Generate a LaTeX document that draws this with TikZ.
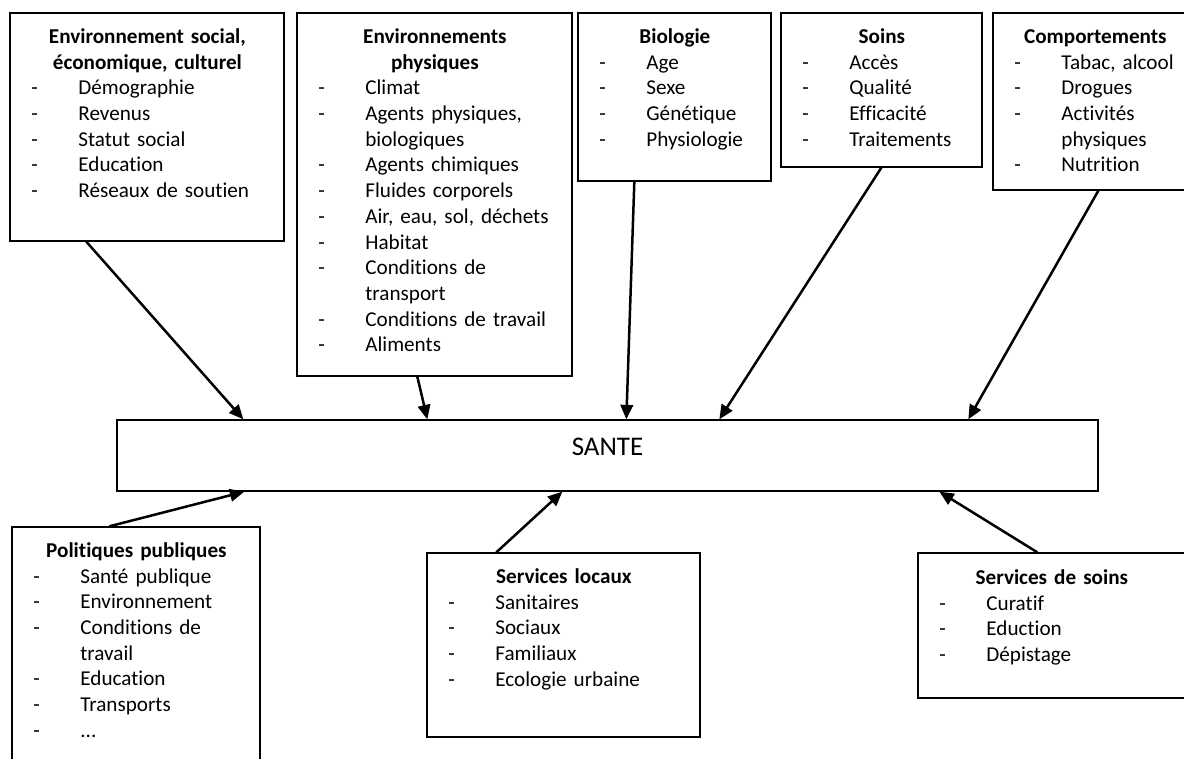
\documentclass[tikz,border=0pt]{standalone}
\usepackage{fontspec}
\setmainfont{Carlito}[Ligatures=NoCommon]
\usetikzlibrary{arrows.meta,fit}
\newdimen\px \px=0.52pt
\tikzset{
  cadre/.style={draw,line width=0.7pt,inner sep=0pt},
  texte/.style={inner sep=0pt,anchor=base west,font=\fontsize{11pt}{13.36pt}\selectfont},
  fleche/.style={-{Triangle[length=7.5pt,width=6.5pt]},line width=1.3pt}
}
\newcommand\titre[1]{{\centering\bfseries #1\par}}
\newcommand\tiret[1]{\hspace*{21\px}\makebox[47\px][l]{-}#1\par}
\newcommand\suite[1]{\hspace*{68\px}#1\par}

\begin{document}
\begin{tikzpicture}[x=0.52pt,y=-0.52pt]
  \clip (0,0) rectangle (1184,758);

  % Determinants
  \node[cadre,fit={(10,13) (284,241)}] (social) {};
  \node[texte,text width=274\px] (social-t) at (10,43.5) {\titre{Environnement social,\\économique, culturel}
    \tiret{Démographie}\tiret{Revenus}\tiret{Statut social}\tiret{Education}\tiret{Réseaux de soutien}};
  \node[cadre,fit={(297,13) (572,376)}] (physique) {};
  \node[texte,text width=275\px] (physique-t) at (297,43.5) {\titre{Environnements\\physiques}
    \tiret{Climat}\tiret{Agents physiques,}\suite{biologiques}\tiret{Agents chimiques}\tiret{Fluides corporels}
    \tiret{Air, eau, sol, déchets}\tiret{Habitat}\tiret{Conditions de}\suite{transport}
    \tiret{Conditions de travail}\tiret{Aliments}};
  \node[cadre,fit={(578,13) (771,181)}] (biologie) {};
  \node[texte,text width=193\px] (biologie-t) at (578,43.5) {\titre{Biologie}
    \tiret{Age}\tiret{Sexe}\tiret{Génétique}\tiret{Physiologie}};
  \node[cadre,fit={(781,13) (982,167)}] (soins) {};
  \node[texte,text width=201\px] (soins-t) at (781,43.5) {\titre{Soins}
    \tiret{Accès}\tiret{Qualité}\tiret{Efficacité}\tiret{Traitements}};
  \node[cadre,fit={(993,13) (1197,190)}] (comport) {};
  \node[texte,text width=204\px] (comport-t) at (993,43.5) {\titre{Comportements}
    \tiret{Tabac, alcool}\tiret{Drogues}\tiret{Activités}\suite{physiques}\tiret{Nutrition}};

  % Centre
  \node[cadre,fit={(117,420) (1098,491)},font=\fontsize{14pt}{17pt}\selectfont] (sante) {SANTE};

  % Services
  \node[cadre,fit={(12,527) (260,800)}] (politiques) {};
  \node[texte,text width=248\px] (politiques-t) at (12,557.5) {\titre{Politiques publiques}
    \tiret{Santé publique}\tiret{Environnement}\tiret{Conditions de}\suite{travail}
    \tiret{Education}\tiret{Transports}\tiret{...}};
  \node[cadre,fit={(427,553) (700,737)}] (locaux) {};
  \node[texte,text width=273\px] (locaux-t) at (427,583.5) {\titre{Services locaux}
    \tiret{Sanitaires}\tiret{Sociaux}\tiret{Familiaux}\tiret{Ecologie urbaine}};
  \node[cadre,fit={(918,553) (1185,698)}] (servsoins) {};
  \node[texte,text width=267\px] (servsoins-t) at (918,584.5) {\titre{Services de soins}
    \tiret{Curatif}\tiret{Eduction}\tiret{Dépistage}};

  % Arrows
  \foreach \src/\a/\b in {social/77/127,physique/121/311,biologie/57/510,soins/101/603,comport/106/852}
    \draw[fleche] ([xshift=\a\px]\src.south west) -- ([xshift=\b\px]sante.north west);
  \foreach \src/\a/\b in {politiques/98/128,locaux/70/446,servsoins/120/823}
    \draw[fleche] ([xshift=\a\px]\src.north west) -- ([xshift=\b\px]sante.south west);
\end{tikzpicture}
\end{document}
